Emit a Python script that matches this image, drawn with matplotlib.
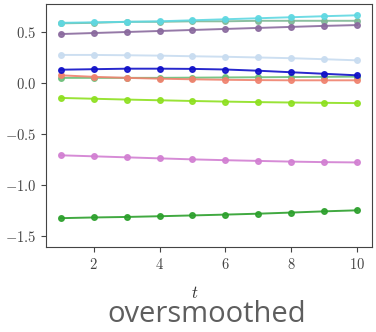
import numpy as np
from matplotlib import pyplot as plt

plt.rcParams['font.family'] = 'serif'
plt.rcParams['font.serif'] = ['cmr10', 'DejaVu Serif']
plt.rcParams['mathtext.fontset'] = 'cm'
plt.rcParams['axes.unicode_minus'] = False
plt.rcParams['axes.formatter.use_mathtext'] = True

t = np.arange(1, 11)

# values
cyan = [0.59, 0.595, 0.60, 0.605, 0.615, 0.625, 0.635, 0.645, 0.655, 0.664]
sage = [0.585, 0.59, 0.60, 0.60, 0.605, 0.605, 0.61, 0.61, 0.61, 0.61]
purple = [0.48, 0.49, 0.50, 0.51, 0.52, 0.53, 0.54, 0.55, 0.56, 0.568]
lightblue = [0.275, 0.275, 0.272, 0.268, 0.262, 0.257, 0.25, 0.243, 0.233, 0.222]
navy = [0.13, 0.135, 0.14, 0.14, 0.138, 0.132, 0.12, 0.105, 0.09, 0.075]
salmon = [0.075, 0.06, 0.05, 0.042, 0.036, 0.031, 0.028, 0.026, 0.026, 0.026]
green = [0.05, 0.05, 0.05, 0.05, 0.052, 0.054, 0.056, 0.058, 0.06, 0.062]
lime = [-0.147, -0.155, -0.163, -0.17, -0.177, -0.183, -0.188, -0.192, -0.195, -0.198]
orchid = [-0.71, -0.72, -0.73, -0.74, -0.75, -0.758, -0.765, -0.772, -0.777, -0.78]
darkgreen = [-1.327, -1.32, -1.315, -1.308, -1.3, -1.292, -1.283, -1.272, -1.26, -1.25]

series = [
    (sage, '#7fb896'),
    (cyan, '#5fd8e2'),
    (purple, '#8a6a9e'),
    (lightblue, '#c8dcf0'),
    (green, '#6cbf7a'),
    (salmon, '#f0826e'),
    (navy, '#1010c8'),
    (lime, '#8ee020'),
    (orchid, '#d27fd2'),
    (darkgreen, '#2ca02c'),
]

fig = plt.figure(figsize=(3.76, 3.32), dpi=100)
ax = fig.add_axes([0.1223, 0.256, 0.8667, 0.732])

for vals, c in series:
    ax.plot(t, vals, '-o', color=c, lw=1.4, ms=4, alpha=0.9)

ax.set_xlim(0.55, 10.45)
ax.set_ylim(-1.61, 0.775)
ax.set_xticks([2, 4, 6, 8, 10])
ax.set_yticks([-1.5, -1.0, -0.5, 0.0, 0.5])
ax.tick_params(labelsize=10.5, colors='#444444', length=3.5)
for s in ax.spines.values():
    s.set_color('#444444')
ax.set_xlabel('$t$', fontsize=12, color='#333333')
ax.xaxis.set_label_coords(0.457, -0.155)

fig.text(0.549, 0.03, 'oversmoothed', ha='center', va='baseline',
         fontsize=21, color='#5e5e5e', family='Open Sans')

fig.savefig('out.png', dpi=100)
